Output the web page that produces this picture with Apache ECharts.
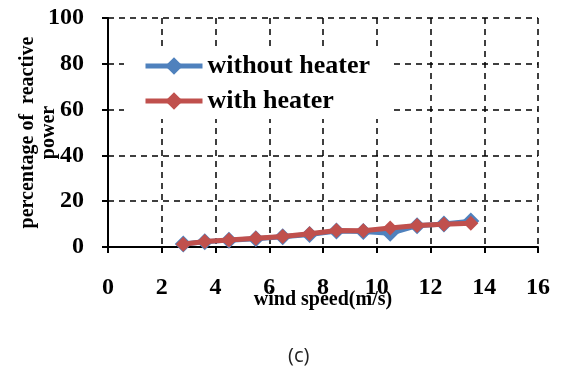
<!DOCTYPE html>
<html>
<head>
<meta charset="utf-8">
<script src="https://cdn.jsdelivr.net/npm/echarts@6/dist/echarts.min.js"></script>
<style>
  html, body { margin: 0; padding: 0; background: #fff; }
  #chart { width: 561px; height: 372px; }
</style>
</head>
<body>
<div id="chart"></div>
<script>
// wind speed (m/s) at each measurement
const windSpeed = [2.8, 3.6, 4.5, 5.5, 6.5, 7.5, 8.5, 9.5, 10.5, 11.5, 12.5, 13.5];
// percentage of reactive power
const withoutHeater = [1.3, 2.3, 3.0, 3.6, 4.5, 5.5, 7.0, 6.8, 6.0, 9.3, 10.0, 11.3];
const withHeater = [1.2, 2.4, 3.1, 3.8, 4.6, 5.8, 7.2, 7.1, 8.3, 9.4, 9.9, 10.4];

const xTicks = [0, 2, 4, 6, 8, 10, 12, 14, 16];
const yTicks = [0, 20, 40, 60, 80, 100];

const serif = '"Liberation Serif", "Times New Roman", serif';
const pairs = (xs, ys) => xs.map((x, i) => [x, ys[i]]);

const chart = echarts.init(document.getElementById('chart'), null, { renderer: 'canvas' });

const axisCommon = {
  axisLine: { onZero: false, lineStyle: { color: '#000', width: 2 } },
  axisTick: { show: true, inside: false, length: 6, lineStyle: { color: '#000', width: 2 } },
  splitLine: { show: true, lineStyle: { color: '#000', width: 1.5, type: [6, 5] } },
  axisLabel: { color: '#000', fontFamily: serif, fontWeight: 'bold', fontSize: 24 },
  nameMoveOverlap: false,
  nameTextStyle: { color: '#000', fontFamily: serif, fontWeight: 'bold', fontSize: 20 }
};

chart.setOption({
  animation: false,
  backgroundColor: '#fff',
  title: {
    text: '(c)',
    left: 283,
    top: 341,
    textStyle: { color: '#222', fontFamily: '"Open Sans", "Liberation Sans", sans-serif', fontWeight: 'normal', fontSize: 20 }
  },
  grid: { left: 108, right: 23, top: 18, bottom: 125, containLabel: false, outerBoundsMode: 'none' },
  legend: {
    orient: 'vertical',
    left: 124,
    top: 48,
    padding: [4, 20, 4, 19],
    backgroundColor: '#fff',
    itemWidth: 57,
    itemHeight: 22,
    itemGap: 7,
    lineStyle: { width: 5 },
    textStyle: { color: '#000', fontFamily: serif, fontWeight: 'bold', fontSize: 26, lineHeight: 28 },
    data: ['without heater', 'with heater']
  },
  xAxis: Object.assign({}, axisCommon, {
    type: 'value',
    min: xTicks[0],
    max: xTicks[xTicks.length - 1],
    interval: 2,
    name: 'wind speed(m/s)',
    nameLocation: 'middle',
    nameGap: 43,
    axisLabel: Object.assign({}, axisCommon.axisLabel, { margin: 29 })
  }),
  yAxis: Object.assign({}, axisCommon, {
    type: 'value',
    min: yTicks[0],
    max: yTicks[yTicks.length - 1],
    interval: 20,
    name: 'percentage of  reactive\npower',
    nameLocation: 'middle',
    nameGap: 49,
    nameTextStyle: Object.assign({}, axisCommon.nameTextStyle, { lineHeight: 21, align: 'center' }),
    axisLabel: Object.assign({}, axisCommon.axisLabel, { margin: 24 })
  }),
  series: [
    {
      name: 'without heater',
      type: 'line',
      data: pairs(windSpeed, withoutHeater),
      symbol: 'diamond',
      symbolSize: 17,
      lineStyle: { color: '#4F81BD', width: 5 },
      itemStyle: { color: '#4F81BD' },
      z: 2
    },
    {
      name: 'with heater',
      type: 'line',
      data: pairs(windSpeed, withHeater),
      symbol: 'diamond',
      symbolSize: 15,
      lineStyle: { color: '#C0504D', width: 5 },
      itemStyle: { color: '#C0504D' },
      z: 3
    }
  ]
});
</script>
</body>
</html>
